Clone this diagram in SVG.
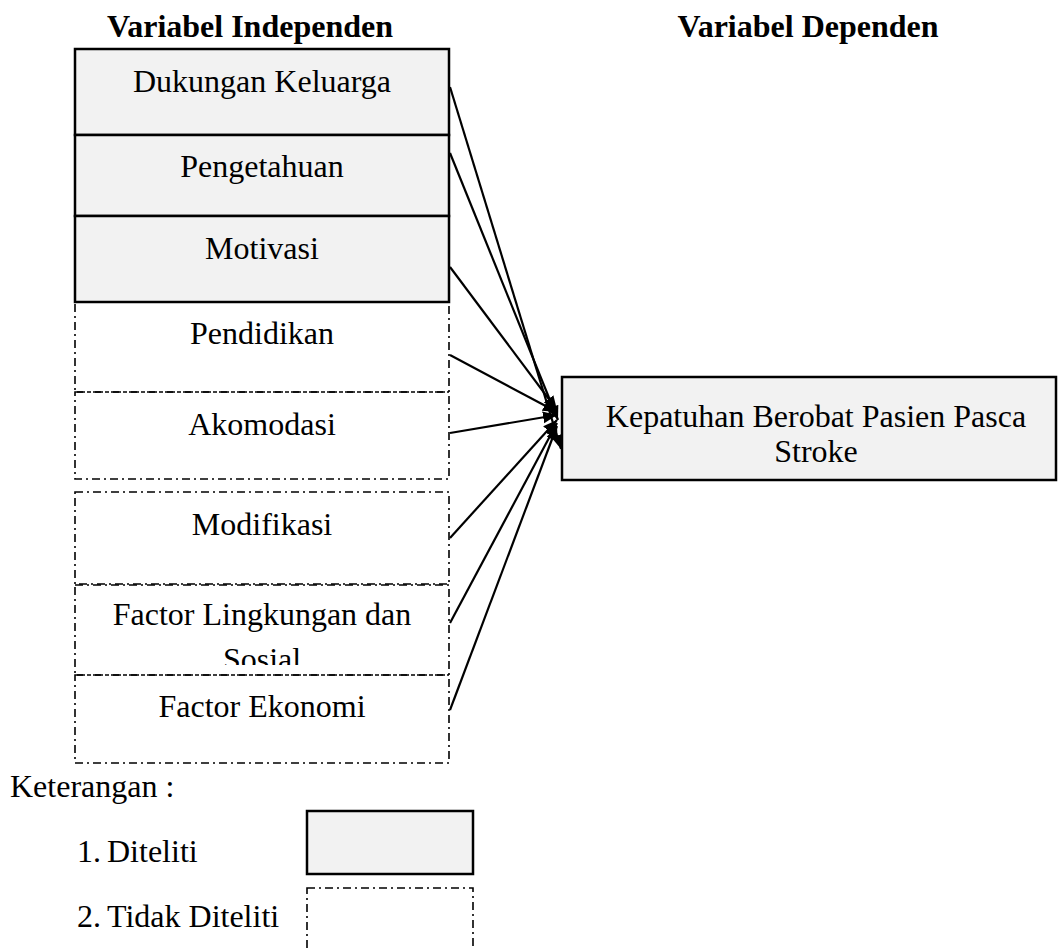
<svg xmlns="http://www.w3.org/2000/svg" width="1060" height="950" viewBox="0 0 1060 950">
<style>
text{font-family:"Liberation Serif","Times New Roman",serif;font-size:32px;fill:#000}
.t{text-anchor:middle}
.b{font-weight:bold}
.solid{fill:#f2f2f2;stroke:#000;stroke-width:2.5}
.dash{fill:none;stroke:#000;stroke-width:1.6;stroke-dasharray:8 4 2 4}
.conn line{stroke:#000;stroke-width:2.2;marker-end:url(#ah)}
</style>
<defs>
<marker id="ah" markerUnits="userSpaceOnUse" markerWidth="16" markerHeight="14" refX="14" refY="6" orient="auto">
<path d="M0,0 L14,6 L0,12 Z" fill="#000"/>
</marker>
<clipPath id="clipL"><rect x="75" y="585" width="375" height="80"/></clipPath>
</defs>
<rect width="1060" height="950" fill="#fff"/>
<text class="t b" x="250" y="37">Variabel Independen</text>
<text class="t b" x="808" y="37">Variabel Dependen</text>

<g id="n1"><rect class="solid" x="75" y="49" width="374" height="86"/><text class="t" x="262" y="92">Dukungan Keluarga</text></g>
<g id="n2"><rect class="solid" x="75" y="135" width="374" height="81"/><text class="t" x="262" y="177">Pengetahuan</text></g>
<g id="n3"><rect class="solid" x="75" y="216" width="374" height="86"/><text class="t" x="262" y="259">Motivasi</text></g>
<g id="n4"><rect class="dash" x="75" y="302" width="374" height="90"/><text class="t" x="262" y="344">Pendidikan</text></g>
<g id="n5"><rect class="dash" x="75" y="392" width="374" height="87"/><text class="t" x="262" y="435">Akomodasi</text></g>
<g id="n6"><rect class="dash" x="75" y="492" width="374" height="92"/><text class="t" x="262" y="535">Modifikasi</text></g>
<g id="n7"><rect class="dash" x="75" y="585" width="374" height="90"/><g clip-path="url(#clipL)"><text class="t" x="262" y="625">Factor Lingkungan dan</text><text class="t" x="262" y="670">Sosial</text></g></g>
<g id="n8"><rect class="dash" x="75" y="675" width="374" height="88"/><text class="t" x="262" y="717">Factor Ekonomi</text></g>

<g id="target"><rect class="solid" x="562" y="377" width="494" height="103"/><text class="t" x="816" y="427">Kepatuhan Berobat Pasien Pasca</text><text class="t" x="816" y="462">Stroke</text></g>

<g id="connectors" class="conn">
<line x1="450" y1="87" x2="561" y2="449"/>
<line x1="450" y1="153" x2="558" y2="420"/>
<line x1="450" y1="267" x2="557" y2="410"/>
<line x1="450" y1="355" x2="557" y2="412"/>
<line x1="450" y1="433" x2="557" y2="415"/>
<line x1="450" y1="538" x2="557" y2="420"/>
<line x1="450" y1="623" x2="557" y2="423"/>
<line x1="450" y1="710" x2="557" y2="426"/>
</g>

<g id="legend">
<text x="10" y="797">Keterangan :</text>
<text x="77" y="862">1.</text><text x="107" y="862">Diteliti</text>
<text x="77" y="927">2.</text><text x="107" y="927">Tidak Diteliti</text>
<rect class="solid" x="307" y="811" width="166" height="63"/>
<rect class="dash" x="307" y="888" width="166" height="80"/>
</g>
</svg>
